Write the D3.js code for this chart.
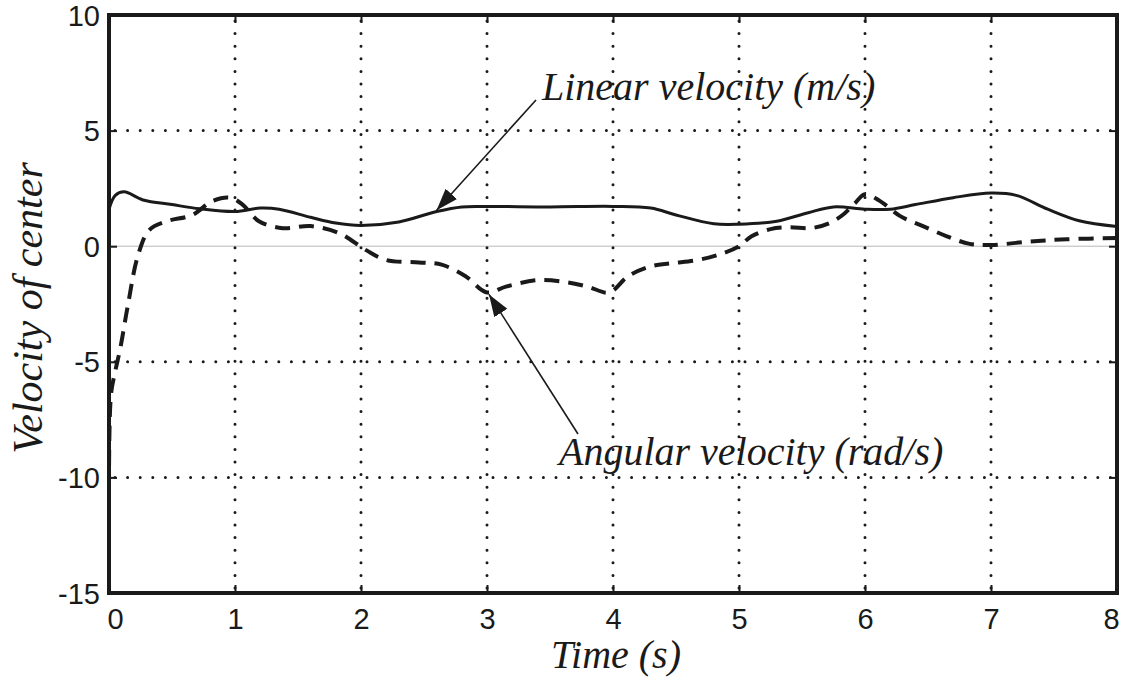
<!DOCTYPE html>
<html lang="en">
<head>
<meta charset="utf-8">
<title>Velocity of center</title>
<script src="https://cdn.jsdelivr.net/npm/d3@7"></script>
<style>
  body { margin: 0; background: #fff; }
  .tick text { font-family: "Liberation Sans", Arial, sans-serif; font-size: 29px; fill: #1a1a1a; }
  .tick line { stroke: #1a1a1a; stroke-width: 2; }
  .lbl { font-family: "Liberation Serif", "Times New Roman", serif; font-style: italic; fill: #1a1a1a; }
</style>
</head>
<body>
<script>
// axis ticks
var xTicks = [0, 1, 2, 3, 4, 5, 6, 7, 8];
var yTicks = [-15, -10, -5, 0, 5, 10];

// linear velocity (m/s), solid
var linT = [0, 0.05, 0.12, 0.27, 0.5, 0.72, 1.0, 1.2, 1.35, 1.6, 1.8, 2.0, 2.3, 2.6, 2.8, 3.0, 3.5, 4.0, 4.3, 4.5, 4.8, 5.0, 5.3, 5.55, 5.75, 6.0, 6.2, 6.4, 6.7, 7.0, 7.2, 7.45, 7.7, 8.0];
var linV = [1.6, 2.2, 2.35, 2.0, 1.8, 1.62, 1.5, 1.65, 1.6, 1.25, 1.0, 0.9, 1.05, 1.5, 1.7, 1.72, 1.7, 1.72, 1.65, 1.35, 0.97, 0.95, 1.08, 1.45, 1.7, 1.6, 1.6, 1.8, 2.1, 2.3, 2.2, 1.6, 1.1, 0.85];

// angular velocity (rad/s), dashed
var angT = [0, 0.016, 0.05, 0.09, 0.15, 0.23, 0.32, 0.46, 0.66, 0.82, 0.96, 1.06, 1.19, 1.38, 1.6, 1.83, 2.04, 2.2, 2.46, 2.64, 2.83, 3.0, 3.15, 3.4, 3.62, 3.8, 3.97, 4.12, 4.3, 4.46, 4.67, 4.85, 5.0, 5.1, 5.25, 5.4, 5.57, 5.72, 5.83, 5.92, 6.0, 6.12, 6.28, 6.46, 6.65, 6.83, 7.0, 7.3, 7.6, 8.0];
var angV = [-10.5, -6.4, -5.4, -4.4, -2.55, -0.4, 0.7, 1.08, 1.35, 1.95, 2.1, 1.8, 1.08, 0.78, 0.87, 0.56, -0.17, -0.6, -0.7, -0.8, -1.3, -2.0, -1.75, -1.47, -1.55, -1.75, -2.0, -1.3, -0.87, -0.74, -0.6, -0.35, 0, 0.43, 0.74, 0.82, 0.78, 1.0, 1.38, 1.86, 2.25, 1.95, 1.3, 0.87, 0.43, 0.1, 0.05, 0.2, 0.3, 0.35];

var w = 1123, h = 677;
var pLeft = 109, pRight = 1117, pTop = 15, pBottom = 593;

var svg = d3.select("body").append("svg")
  .attr("width", w)
  .attr("height", h);

var x = d3.scaleLinear().domain([0, 8]).range([pLeft, pRight]);
var y = d3.scaleLinear().domain([-15, 10]).range([pBottom, pTop]);

// zero line (thin grey)
svg.append("line")
  .attr("x1", pLeft).attr("x2", pRight)
  .attr("y1", y(0)).attr("y2", y(0))
  .attr("stroke", "#b8b8b8").attr("stroke-width", 1);

// dotted grid
function dotted(sel) {
  sel.attr("stroke", "#1a1a1a")
    .attr("stroke-width", 3)
    .attr("stroke-linecap", "round")
    .attr("stroke-dasharray", "0,12.6");
}
var grid = svg.append("g");
grid.selectAll(".gx").data(xTicks.slice(1, -1)).enter().append("line")
  .attr("x1", function(d) { return x(d); }).attr("x2", function(d) { return x(d); })
  .attr("y1", pTop + 6).attr("y2", pBottom)
  .call(dotted);
grid.selectAll(".gy").data([5, -5, -10]).enter().append("line")
  .attr("y1", function(d) { return y(d); }).attr("y2", function(d) { return y(d); })
  .attr("x1", pLeft + 6).attr("x2", pRight)
  .call(dotted);

// axes with inward ticks
var fmt = function(d) { return String(d); };
var xAxisG = svg.append("g").attr("transform", "translate(0," + pBottom + ")")
  .call(d3.axisBottom(x).tickValues(xTicks).tickFormat(fmt).tickSize(-8).tickPadding(14));
var yAxisG = svg.append("g").attr("transform", "translate(" + pLeft + ",0)")
  .call(d3.axisLeft(y).tickValues(yTicks).tickFormat(fmt).tickSize(-8).tickPadding(9));
svg.append("g").attr("transform", "translate(0," + pTop + ")")
  .call(d3.axisTop(x).tickValues(xTicks).tickFormat("").tickSize(-8));
svg.append("g").attr("transform", "translate(" + pRight + ",0)")
  .call(d3.axisRight(y).tickValues(yTicks).tickFormat("").tickSize(-8));
svg.selectAll(".domain").remove();
xAxisG.selectAll("text").attr("dy", null).attr("y", 36);
yAxisG.selectAll("text").attr("dy", null).attr("y", 10);
xAxisG.selectAll("text").filter(function(d) { return d === 8; }).attr("dx", -6);
xAxisG.selectAll("text").filter(function(d) { return d === 0; }).attr("dx", 6);

// lines
var line = d3.line()
  .x(function(d) { return x(d[0]); })
  .y(function(d) { return y(d[1]); })
  .curve(d3.curveCatmullRom.alpha(0.5));

svg.append("path")
  .datum(d3.zip(linT, linV))
  .attr("d", line)
  .attr("fill", "none").attr("stroke", "#1a1a1a").attr("stroke-width", 3);

svg.append("path")
  .datum(d3.zip(angT, angV))
  .attr("d", line)
  .attr("fill", "none").attr("stroke", "#1a1a1a").attr("stroke-width", 4)
  .attr("stroke-dasharray", "15,9");

// frame
svg.append("rect")
  .attr("x", pLeft).attr("y", pTop)
  .attr("width", pRight - pLeft).attr("height", pBottom - pTop)
  .attr("fill", "none").attr("stroke", "#1a1a1a").attr("stroke-width", 4);

// arrow marker
svg.append("defs").append("marker")
  .attr("id", "head").attr("viewBox", "0 0 10 10")
  .attr("refX", 10).attr("refY", 5)
  .attr("markerWidth", 22).attr("markerHeight", 22)
  .attr("markerUnits", "userSpaceOnUse")
  .attr("orient", "auto")
  .append("path").attr("d", "M0,1.5 L10,5 L0,8.5 Z").attr("fill", "#1a1a1a");

// annotations
svg.append("line")
  .attr("x1", 536).attr("y1", 100).attr("x2", x(2.6)).attr("y2", y(1.6) + 1)
  .attr("stroke", "#1a1a1a").attr("stroke-width", 1.6).attr("marker-end", "url(#head)");
svg.append("text").attr("class", "lbl")
  .attr("x", 542).attr("y", 100).attr("font-size", 40)
  .text("Linear velocity (m/s)");

svg.append("line")
  .attr("x1", 578).attr("y1", 434).attr("x2", x(3.0) + 2).attr("y2", y(-2.0) + 2)
  .attr("stroke", "#1a1a1a").attr("stroke-width", 1.6).attr("marker-end", "url(#head)");
svg.append("text").attr("class", "lbl")
  .attr("x", 559).attr("y", 465).attr("font-size", 40)
  .text("Angular velocity (rad/s)");

// axis titles
svg.append("text").attr("class", "lbl")
  .attr("x", 616).attr("y", 668).attr("font-size", 40)
  .attr("text-anchor", "middle")
  .text("Time (s)");
svg.append("text").attr("class", "lbl")
  .attr("transform", "translate(42,308) rotate(-90)")
  .attr("font-size", 42)
  .attr("text-anchor", "middle")
  .text("Velocity of center");
</script>
</body>
</html>
